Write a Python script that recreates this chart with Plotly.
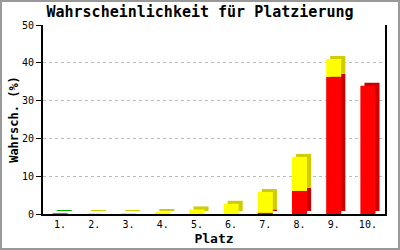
import plotly.graph_objects as go

places = ["1.", "2.", "3.", "4.", "5.", "6.", "7.", "8.", "9.", "10."]
green = [0.25, 0, 0, 0, 0, 0, 0, 0, 0, 0]
red = [0, 0, 0, 0, 0, 0, 0.3, 6.1, 36.3, 33.9]
yellow = [0, 0.1, 0.1, 0.4, 1.2, 2.7, 5.5, 9.0, 4.7, 0]
y_ticks = [0, 10, 20, 30, 40, 50]

x = list(range(len(places)))
DX, DY = 0.12, 0.8   # 3D depth offsets
W = 0.44
FONT = "DejaVu Sans Mono"

series = [
    (green, "#00cc00", "#00a800"),
    (red, "#ff0000", "#cc0000"),
    (yellow, "#ffff00", "#d0cc00"),
]

fig = go.Figure()
bases = [0.0] * len(x)
fronts = []
for vals, front_c, side_c in series:
    b = list(bases)
    keep = [i for i in x if vals[i] > 0]
    xs = [x[i] for i in keep]
    vs = [vals[i] for i in keep]
    bs = [b[i] for i in keep]
    fig.add_trace(go.Bar(x=xs, y=vs, base=[v + DY for v in bs], offset=-W / 2 + DX, width=W,
                         marker=dict(color=side_c, line=dict(width=0)), hoverinfo="skip", showlegend=False))
    fronts.append((xs, vs, bs, front_c))
    for i in keep:
        bases[i] += vals[i]

for xs, vs, bs, c in fronts:
    fig.add_trace(go.Bar(x=xs, y=vs, base=bs, offset=-W / 2, width=W,
                         marker=dict(color=c, line=dict(width=0)), showlegend=False))

fig.update_layout(
    width=400, height=250,
    margin=dict(l=43, r=15, t=25, b=36, autoexpand=False),
    paper_bgcolor="white", plot_bgcolor="white",
    barmode="overlay",
    showlegend=False,
    title=dict(text="<b>Wahrscheinlichkeit für Platzierung</b>", x=0.5, xanchor="center",
               y=0.952, yanchor="middle", font=dict(family=FONT, size=15, color="black")),
    font=dict(family=FONT, color="black"),
    xaxis=dict(range=[-0.5, 9.5], tickmode="array", tickvals=x, ticktext=places, automargin=False,
               showline=True, linecolor="black", linewidth=2, showgrid=False, zeroline=False,
               ticks="", tickfont=dict(size=10, family=FONT),
               title=dict(text="<b>Platz</b>", font=dict(size=13, family=FONT), standoff=5)),
    yaxis=dict(range=[0, 50], tickmode="array", tickvals=y_ticks, automargin=False,
               showline=True, mirror=True, linecolor="black", linewidth=2,
               ticks="outside", ticklen=5, tickcolor="black", tickwidth=1,
               showgrid=True, gridcolor="#bbbbbb", griddash="3px,3px", gridwidth=1,
               zeroline=False, tickfont=dict(size=10, family=FONT),
               title=dict(text="<b>Wahrsch. (%)</b>", font=dict(size=12, family=FONT), standoff=1)),
)

pw, ph = 400 - 43 - 15, 250 - 25 - 36
fig.add_shape(type="rect", xref="paper", yref="paper",
              x0=(-43 + 1) / pw, x1=(pw + 15 - 1) / pw, y0=(-36 + 1) / ph, y1=(ph + 25 - 1) / ph,
              line=dict(color="#999999", width=2), fillcolor="rgba(0,0,0,0)", layer="below")

fig.write_html("out.html")
